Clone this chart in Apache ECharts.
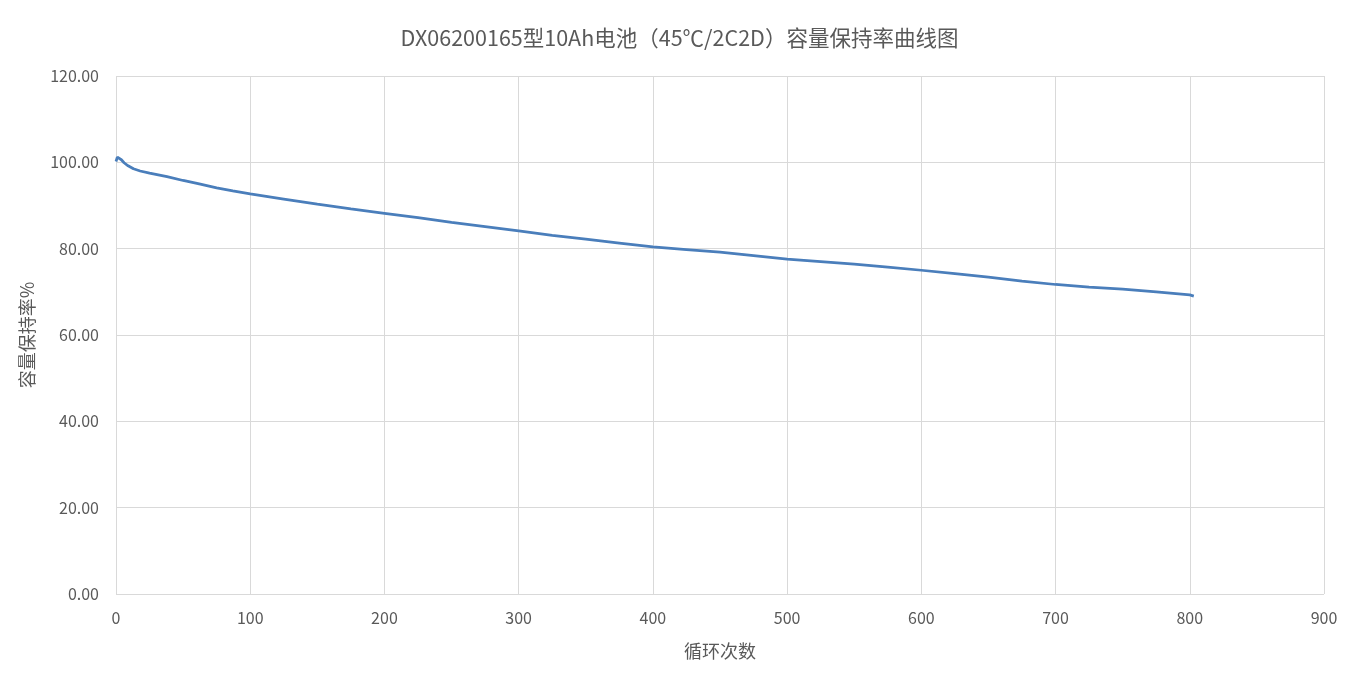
<!DOCTYPE html>
<html>
<head>
<meta charset="utf-8">
<script src="https://cdn.jsdelivr.net/npm/echarts@6/dist/echarts.min.js"></script>
<style>
html,body{margin:0;padding:0;background:#fff;}
#c{width:1359px;height:680px;}
</style>
</head>
<body>
<div id="c"></div>
<script>
const titleText = 'DX06200165型10Ah电池（45℃/2C2D）容量保持率曲线图';
const xName = '循环次数';
const yName = '容量保持率%';
const cycles = [0, 1, 2, 4, 6, 9, 13, 18, 25, 38, 50, 62, 75, 87, 100, 125, 150, 175, 200, 225, 250, 275, 300, 325, 350, 375, 400, 425, 450, 475, 500, 525, 550, 575, 600, 625, 650, 675, 700, 725, 750, 775, 800, 803];
const retention = [100.2, 101.2, 101.4, 100.6, 99.9, 99.2, 98.5, 98.0, 97.5, 96.7, 95.8, 95.0, 94.1, 93.4, 92.7, 91.5, 90.3, 89.2, 88.2, 87.2, 86.1, 85.1, 84.1, 83.1, 82.2, 81.3, 80.4, 79.8, 79.2, 78.4, 77.6, 77.0, 76.4, 75.7, 75.0, 74.2, 73.4, 72.5, 71.7, 71.1, 70.6, 70.0, 69.3, 69.0];

const font = "'Microsoft YaHei', 'Noto Sans CJK SC', sans-serif";
const chart = echarts.init(document.getElementById('c'), null, {renderer: 'canvas'});
chart.setOption({
  animation: false,
  backgroundColor: '#fff',
  title: {
    text: titleText, left: 'center', top: 22,
    textStyle: {fontFamily: font, fontSize: 21.5, fontWeight: 'normal', color: '#595959'}
  },
  grid: {left: 116, right: 35, top: 76, bottom: 86},
  xAxis: {
    type: 'value', min: 0, max: 900, interval: 100,
    name: xName, nameLocation: 'middle', nameGap: 48,
    nameTextStyle: {fontFamily: font, fontSize: 18, color: '#595959'},
    axisLine: {show: false}, axisTick: {show: false},
    axisLabel: {fontFamily: font, fontSize: 16, color: '#595959', margin: 16},
    splitLine: {show: true, lineStyle: {color: '#d9d9d9', width: 1}}
  },
  yAxis: {
    type: 'value', min: 0, max: 120, interval: 20,
    name: yName, nameLocation: 'middle', nameGap: 80, nameRotate: 90,
    nameTextStyle: {fontFamily: font, fontSize: 18, color: '#595959'},
    axisLine: {show: false}, axisTick: {show: false},
    axisLabel: {fontFamily: font, fontSize: 16, color: '#595959', margin: 17, formatter: v => v.toFixed(2)},
    splitLine: {show: true, lineStyle: {color: '#d9d9d9', width: 1}}
  },
  series: [{
    type: 'line',
    data: cycles.map((c, i) => [c, retention[i]]),
    showSymbol: false, smooth: false,
    lineStyle: {color: '#4a7ebb', width: 2.75},
    itemStyle: {color: '#4a7ebb'}
  }]
});
</script>
</body>
</html>
